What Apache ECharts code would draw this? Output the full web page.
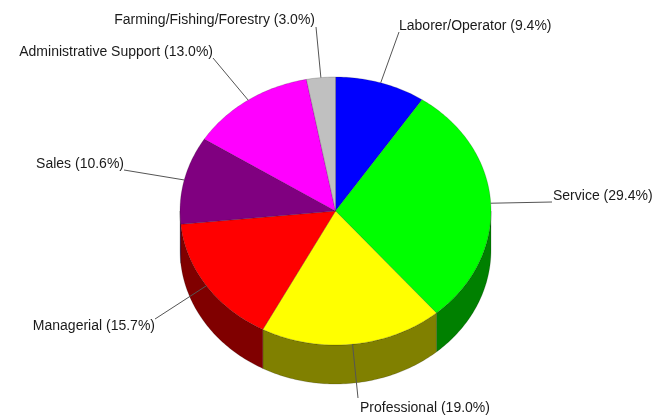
<!DOCTYPE html>
<html>
<head>
<meta charset="utf-8">
<script src="https://cdn.jsdelivr.net/npm/echarts@6/dist/echarts.min.js"></script>
<style>
  html, body { margin: 0; padding: 0; background: #fff; }
  #chart { width: 654px; height: 417px; }
</style>
</head>
<body>
<div id="chart"></div>
<script>
const categories = [
  "Laborer/Operator",
  "Service",
  "Professional",
  "Managerial",
  "Sales",
  "Administrative Support",
  "Farming/Fishing/Forestry"
];
const shares = [9.4, 29.4, 19.0, 15.7, 10.6, 13.0, 3.0];
const topColors = ["#0000ff", "#00ff00", "#ffff00", "#ff0000", "#800080", "#ff00ff", "#c0c0c0"];
const sideColors = ["#000080", "#008000", "#808000", "#800000", "#400040", "#800080", "#606060"];

// where each label sits (text anchor + end of the leader line)
const labelLayout = [
  { x: 399, y: 26, align: "left", lx: 399, ly: 32 },
  { x: 553, y: 196, align: "left", lx: 552, ly: 202 },
  { x: 360, y: 408, align: "left", lx: 358, ly: 398 },
  { x: 155, y: 326, align: "right", lx: 155, ly: 319 },
  { x: 124, y: 164, align: "right", lx: 124, ly: 170 },
  { x: 213, y: 52, align: "right", lx: 213, ly: 58 },
  { x: 315, y: 20, align: "right", lx: 316, ly: 27 }
];

// pie geometry
const cx = 335.5, cy = 211, rx = 155.5, ry = 134, depth = 39;

const total = shares.reduce((a, b) => a + b, 0);
const starts = [];
let acc = 0;
shares.forEach(v => {
  starts.push(acc);
  acc += v;
});

function pt(a, dy) {
  return [cx + rx * Math.sin(a), cy - ry * Math.cos(a) + (dy || 0)];
}

function arc(a0, a1, dy) {
  const pts = [];
  const n = Math.max(2, Math.ceil((Math.abs(a1 - a0) * 180) / Math.PI));
  for (let i = 0; i <= n; i++) {
    pts.push(pt(a0 + ((a1 - a0) * i) / n, dy));
  }
  return pts;
}

function renderItem(params, api) {
  const i = params.dataIndex;
  const a0 = (starts[i] / total) * Math.PI * 2;
  const a1 = ((starts[i] + shares[i]) / total) * Math.PI * 2;
  const children = [];

  // visible front wall
  const s = Math.max(a0, Math.PI / 2);
  const e = Math.min(a1, (Math.PI * 3) / 2);
  if (e > s) {
    const side = arc(s, e, 0).concat(arc(e, s, depth));
    children.push({
      type: "polygon",
      z2: 1,
      shape: { points: side },
      style: { fill: sideColors[i], stroke: "rgba(0,0,0,0.35)", lineWidth: 0.5 }
    });
  }

  // top face
  children.push({
    type: "polygon",
    z2: 2,
    shape: { points: [[cx, cy]].concat(arc(a0, a1, 0)) },
    style: { fill: topColors[i], stroke: "rgba(0,0,0,0.35)", lineWidth: 0.5 }
  });

  // leader + label
  const lay = labelLayout[i];
  const mid = (a0 + a1) / 2;
  children.push({
    type: "line",
    z2: 3,
    shape: { x1: pt(mid)[0], y1: pt(mid)[1], x2: lay.lx, y2: lay.ly },
    style: { stroke: "#555", lineWidth: 1 }
  });
  children.push({
    type: "text",
    z2: 4,
    style: {
      text: categories[i] + " (" + shares[i].toFixed(1) + "%)",
      x: lay.x,
      y: lay.y,
      align: lay.align,
      verticalAlign: "middle",
      fill: "#1a1a1a",
      font: '14px "Liberation Sans", Arial, sans-serif'
    }
  });

  return { type: "group", children: children };
}

const chart = echarts.init(document.getElementById("chart"), null, { renderer: "canvas" });
chart.setOption({
  backgroundColor: "#fff",
  animation: false,
  series: [
    {
      type: "custom",
      coordinateSystem: "none",
      renderItem: renderItem,
      data: shares.map((v, i) => ({ name: categories[i], value: v }))
    }
  ]
});
</script>
</body>
</html>
